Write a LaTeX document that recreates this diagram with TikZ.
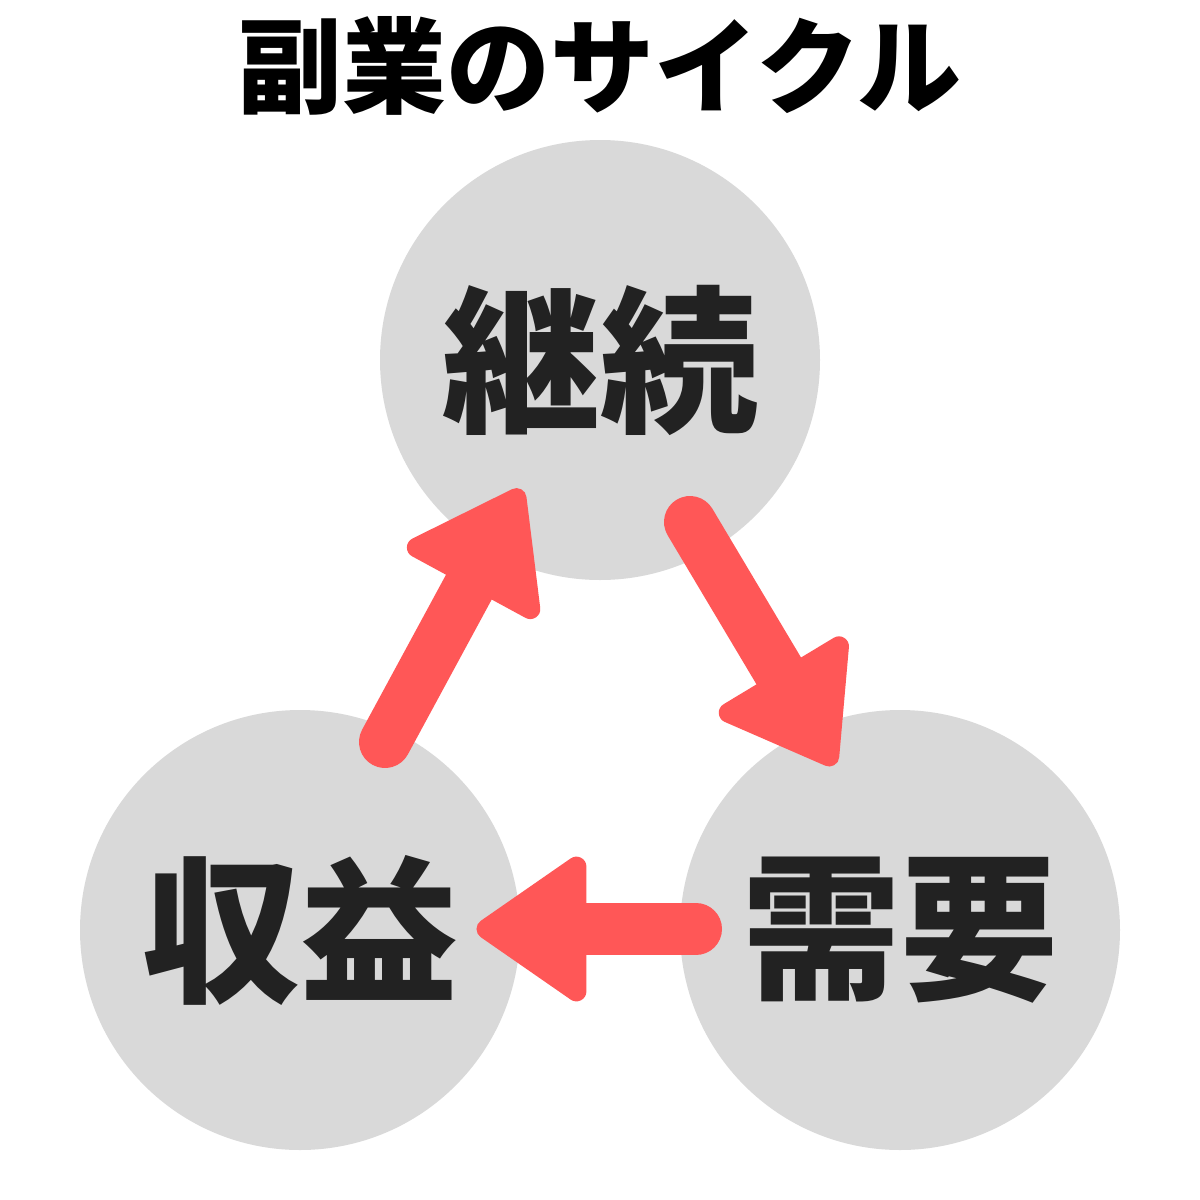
\documentclass[tikz,border=0pt]{standalone}
\usepackage{fontspec}
\newfontfamily\cjk{Noto Sans CJK JP}
\usetikzlibrary{calc}
\definecolor{circ}{HTML}{D9D9D9}
\definecolor{arr}{HTML}{FF5757}
\definecolor{txt}{HTML}{222222}
\begin{document}
\begin{tikzpicture}[x=1pt,y=-1pt,
  bubble/.style={circle,fill=circ,minimum size=440pt,inner sep=0pt,text=txt,
    font=\cjk\bfseries\fontsize{158}{158}\selectfont},
  shaft/.style={draw=arr,line width=52pt,line cap=round},
  head/.style={fill=arr,draw=arr,line width=20pt,line join=round}]
\useasboundingbox (0,0) rectangle (1200,1200);
\fill[white] (0,0) rectangle (1200,1200);
\node[font=\cjk\bfseries\fontsize{104}{104}\selectfont,text=black] (title) at (600,66) {副業のサイクル};
\node[bubble] (k) at (600,360) {継続};
\node[bubble] (s) at (300,930) {収益};
\node[bubble] (j) at (900,930) {需要};
% arrow 1: 収益 -> 継続
\coordinate (s1) at (385,742);
\coordinate (b1) at (470,585);
\coordinate (a1) at (523,486);
\coordinate (c1a) at (400,547);
\coordinate (c1b) at (540,623);
\coordinate (i1) at ($(b1)!40pt!(a1)$);
\draw[shaft] (s1) -- (b1);
\filldraw[head] ($(i1)!0.81!(a1)$) -- ($(i1)!0.81!(c1a)$) -- ($(i1)!0.81!(c1b)$) -- cycle;
% arrow 2: 継続 -> 需要
\coordinate (s2) at (690,522);
\coordinate (b2) at (780,673);
\coordinate (a2) at (836,768);
\coordinate (c2a) at (712,714);
\coordinate (c2b) at (848,632);
\coordinate (i2) at ($(b2)!40pt!(a2)$);
\draw[shaft] (s2) -- (b2);
\filldraw[head] ($(i2)!0.81!(a2)$) -- ($(i2)!0.81!(c2a)$) -- ($(i2)!0.81!(c2b)$) -- cycle;
% arrow 3: 需要 -> 収益
\coordinate (s3) at (696,929);
\coordinate (b3) at (584,929);
\coordinate (a3) at (473,929);
\coordinate (c3a) at (584,852);
\coordinate (c3b) at (584,1006);
\coordinate (i3) at ($(b3)!40pt!(a3)$);
\draw[shaft] (s3) -- (b3);
\filldraw[head] ($(i3)!0.81!(a3)$) -- ($(i3)!0.81!(c3a)$) -- ($(i3)!0.81!(c3b)$) -- cycle;
\end{tikzpicture}
\end{document}
